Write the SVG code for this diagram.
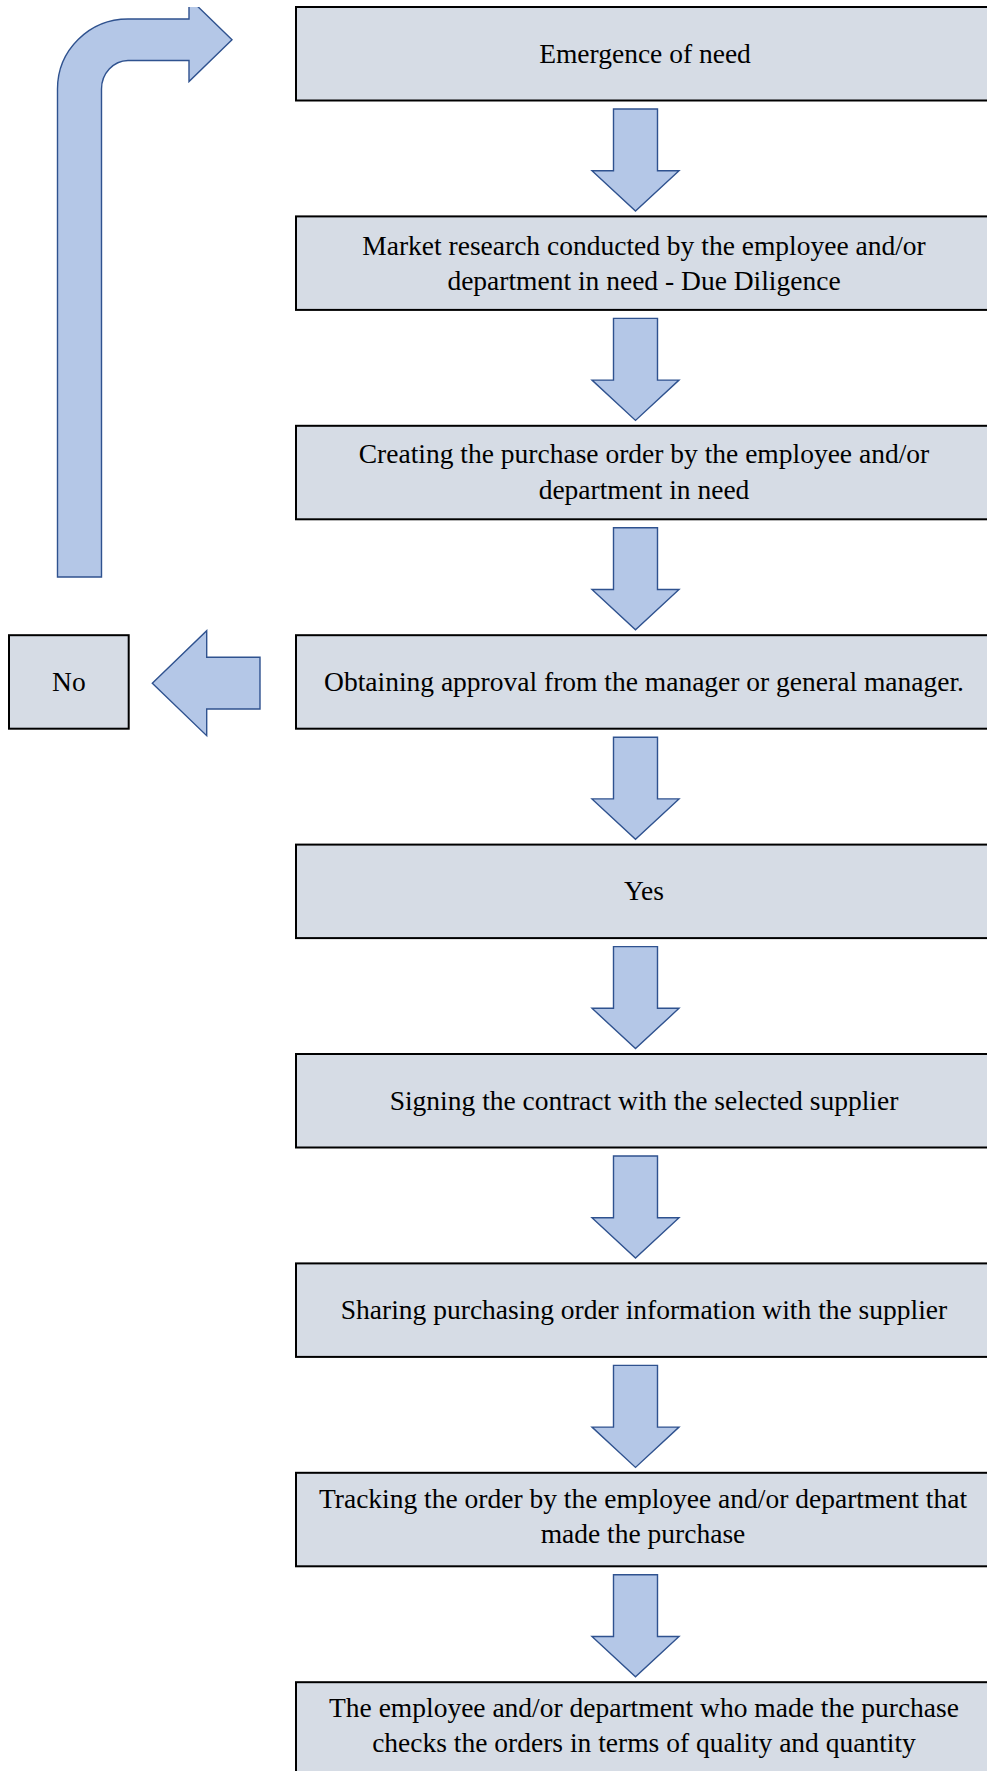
<svg xmlns="http://www.w3.org/2000/svg" width="987" height="1771" viewBox="0 0 987 1771">
<style>
.box{fill:#D6DCE5;stroke:#000;stroke-width:2}
.arr{fill:#B4C7E7;stroke:#2F528F;stroke-width:1.4;stroke-linejoin:miter}
.t{font-family:"Liberation Serif","Times New Roman",serif;font-size:27.5px;fill:#000;text-anchor:middle}
</style>
<defs>
<clipPath id="topclip"><rect x="0" y="7" width="987" height="1764"/></clipPath>
<path id="down" d="M-22,0 H22 V61.7 H43.5 L0,102 L-43.5,61.7 H-22 Z"/>
</defs>
<rect width="987" height="1771" fill="#fff"/>
<g id="connectors">
<path class="arr" clip-path="url(#topclip)" d="M57.5,577 L57.5,89 A70.5,70 0 0 1 128,19 L189,19 L189,-2 L232,39.75 L189,81.5 L189,60.5 L128,60.5 A27,28.5 0 0 0 101.5,89 L101.5,577 Z"/>
<path class="arr" d="M152.3,683.3 L206.7,630.7 L206.7,657.3 L260,657.3 L260,709 L206.7,709 L206.7,735.7 Z"/>
<use href="#down" class="arr" x="635.5" y="109"/>
<use href="#down" class="arr" x="635.5" y="318.4"/>
<use href="#down" class="arr" x="635.5" y="527.8"/>
<use href="#down" class="arr" x="635.5" y="737.2"/>
<use href="#down" class="arr" x="635.5" y="946.6"/>
<use href="#down" class="arr" x="635.5" y="1156"/>
<use href="#down" class="arr" x="635.5" y="1365.4"/>
<use href="#down" class="arr" x="635.5" y="1574.8"/>
</g>
<g id="n1"><rect class="box" x="296" y="7" width="700" height="93.5"/><text class="t" x="645" y="62.7">Emergence of need</text></g>
<g id="n2"><rect class="box" x="296" y="216.4" width="700" height="93.5"/><text class="t" x="644" y="254.5">Market research conducted by the employee and/or</text><text class="t" x="644" y="290">department in need - Due Diligence</text></g>
<g id="n3"><rect class="box" x="296" y="425.8" width="700" height="93.5"/><text class="t" x="644" y="463">Creating the purchase order by the employee and/or</text><text class="t" x="644" y="499">department in need</text></g>
<g id="n4"><rect class="box" x="296" y="635.2" width="700" height="93.5"/><text class="t" x="644" y="690.7">Obtaining approval from the manager or general manager.</text></g>
<g id="no"><rect class="box" x="9" y="635.2" width="119.7" height="93.5"/><text class="t" x="68.9" y="690.7">No</text></g>
<g id="n5"><rect class="box" x="296" y="844.6" width="700" height="93.5"/><text class="t" x="644" y="900">Yes</text></g>
<g id="n6"><rect class="box" x="296" y="1054" width="700" height="93.5"/><text class="t" x="644" y="1109.7">Signing the contract with the selected supplier</text></g>
<g id="n7"><rect class="box" x="296" y="1263.4" width="700" height="93.5"/><text class="t" x="644" y="1319">Sharing purchasing order information with the supplier</text></g>
<g id="n8"><rect class="box" x="296" y="1472.8" width="700" height="93.5"/><text class="t" x="643" y="1508">Tracking the order by the employee and/or department that</text><text class="t" x="643" y="1543">made the purchase</text></g>
<g id="n9"><rect class="box" x="296" y="1682.2" width="700" height="93.5"/><text class="t" x="644" y="1717">The employee and/or department who made the purchase</text><text class="t" x="644" y="1752">checks the orders in terms of quality and quantity</text></g>
</svg>
